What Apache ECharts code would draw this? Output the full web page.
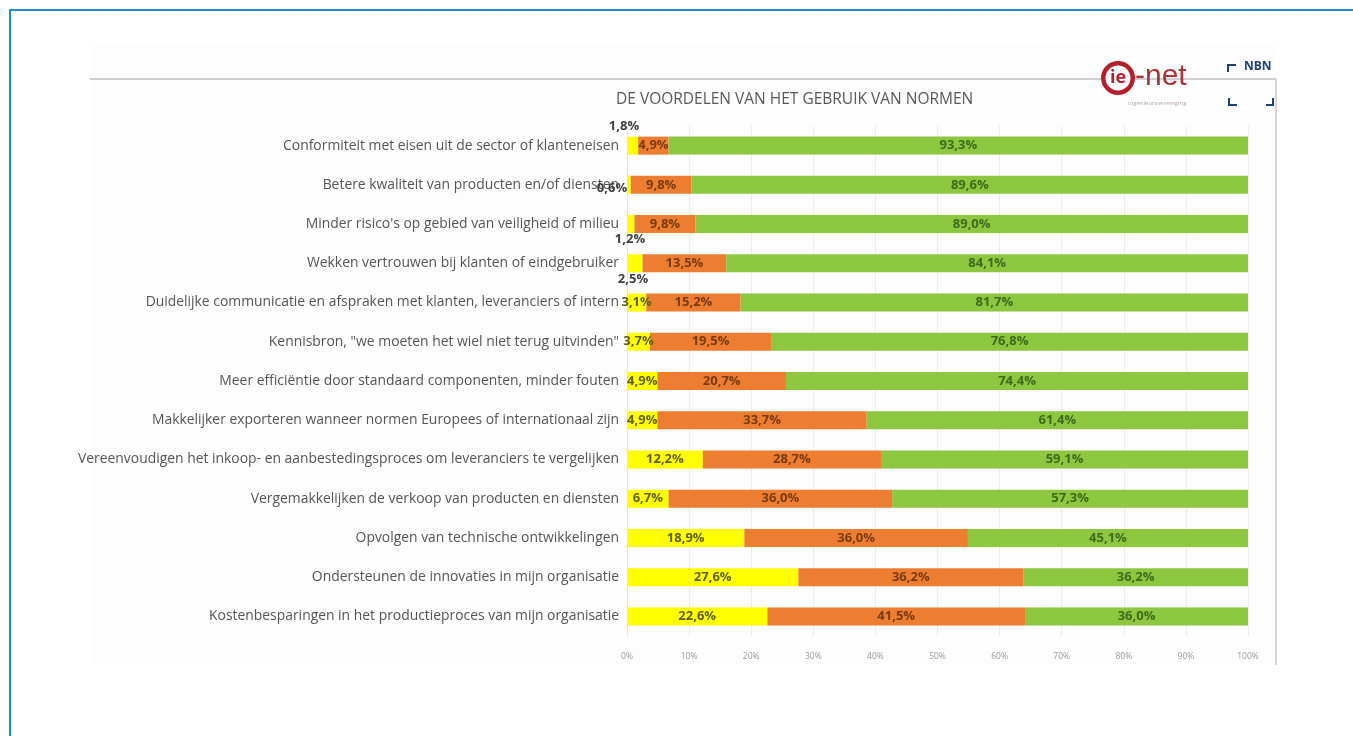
<!DOCTYPE html>
<html>
<head>
<meta charset="utf-8">
<script src="https://cdn.jsdelivr.net/npm/echarts@6/dist/echarts.min.js"></script>
<style>
  html, body { margin: 0; padding: 0; background: #fff; }
  #frame { position: absolute; left: 9px; top: 9px; width: 1400px; height: 800px; border-left: 2px solid #1f8ad8; border-top: 2px solid #1f8ad8; }
  #chart { position: absolute; left: 0; top: 0; width: 1353px; height: 736px; }
</style>
</head>
<body>
<div id="frame"></div>
<div id="chart"></div>
<script>
const categories = [
  "Conformiteit met eisen uit de sector of klanteneisen",
  "Betere kwaliteit van producten en/of diensten",
  "Minder risico's op gebied van veiligheid of milieu",
  "Wekken vertrouwen bij klanten of eindgebruiker",
  "Duidelijke communicatie en afspraken met klanten, leveranciers of intern",
  "Kennisbron, \"we moeten het wiel niet terug uitvinden\"",
  "Meer efficiëntie door standaard componenten, minder fouten",
  "Makkelijker exporteren wanneer normen Europees of internationaal zijn",
  "Vereenvoudigen het inkoop- en aanbestedingsproces om leveranciers te vergelijken",
  "Vergemakkelijken de verkoop van producten en diensten",
  "Opvolgen van technische ontwikkelingen",
  "Ondersteunen de innovaties in mijn organisatie",
  "Kostenbesparingen in het productieproces van mijn organisatie"
];
const yellowValues = [1.8, 0.6, 1.2, 2.5, 3.1, 3.7, 4.9, 4.9, 12.2, 6.7, 18.9, 27.6, 22.6];
const orangeValues = [4.9, 9.8, 9.8, 13.5, 15.2, 19.5, 20.7, 33.7, 28.7, 36.0, 36.0, 36.2, 41.5];
const greenValues  = [93.3, 89.6, 89.0, 84.1, 81.7, 76.8, 74.4, 61.4, 59.1, 57.3, 45.1, 36.2, 36.0];
const tickLabels = ["0%","10%","20%","30%","40%","50%","60%","70%","80%","90%","100%"];
const titleText = "DE VOORDELEN VAN HET GEBRUIK VAN NORMEN";

// label placement for the tiny yellow segments (style, not data)
const smallLabelOffsets = { 0: [-3, -10], 1: [-15, 12], 2: [3, 24], 3: [6, 25] };

const fmt = v => v.toFixed(1).replace('.', ',') + '%';
const labelFont = { fontFamily: 'Open Sans', fontWeight: 'bold', fontSize: 13 };

function yellowData() {
  return yellowValues.map((v, i) => {
    const item = { value: v };
    if (smallLabelOffsets[i]) {
      item.label = { position: smallLabelOffsets[i], align: 'center', verticalAlign: 'middle', color: '#404040' };
    }
    return item;
  });
}

const chart = echarts.init(document.getElementById('chart'));
chart.setOption({
  animation: false,
  backgroundColor: 'transparent',
  title: {
    text: titleText, left: 611, top: 87,
    textStyle: { fontFamily: 'Open Sans', fontSize: 15.5, fontWeight: 'normal', color: '#595959' }
  },
  grid: { left: 627, right: 105, top: 126, height: 510, containLabel: false },
  xAxis: {
    type: 'value', min: 0, max: 100, interval: 10,
    axisLine: { show: false }, axisTick: { show: false },
    splitLine: { show: true, lineStyle: { color: '#ececec', width: 1 } },
    axisLabel: { margin: 16, fontFamily: 'Open Sans', fontSize: 8.5, color: '#9a9a9a',
      formatter: (v) => tickLabels[Math.round(v / 10)] }
  },
  yAxis: {
    type: 'category', data: categories, inverse: true,
    axisLine: { show: true, lineStyle: { color: '#e4e4e4' } }, axisTick: { show: false },
    axisLabel: { margin: 8, fontFamily: 'Open Sans', fontSize: 13.9, color: '#555555' }
  },
  series: [
    { name: 'a', type: 'bar', stack: 't', data: yellowData(), barWidth: 18,
      itemStyle: { color: '#ffff00' },
      label: Object.assign({ show: true, position: 'inside', color: '#5f5f10', formatter: p => fmt(p.value) }, labelFont) },
    { name: 'b', type: 'bar', stack: 't', data: orangeValues, barWidth: 18,
      itemStyle: { color: '#ed7d31' },
      label: Object.assign({ show: true, position: 'inside', color: '#7a3a10', formatter: p => fmt(p.value) }, labelFont) },
    { name: 'c', type: 'bar', stack: 't', data: greenValues, barWidth: 18,
      itemStyle: { color: '#8dc63f' },
      label: Object.assign({ show: true, position: 'inside', color: '#3d6b1c', formatter: p => fmt(p.value) }, labelFont) }
  ],
  graphic: [
    { type: 'rect', z: -10, shape: { x: 90, y: 45, width: 1186, height: 620 }, style: { fill: '#fdfdfd' } },
    { type: 'line', shape: { x1: 90, y1: 79, x2: 1276, y2: 79 }, style: { stroke: '#cfcfcf', lineWidth: 2 } },
    { type: 'line', shape: { x1: 1276, y1: 79, x2: 1276, y2: 665 }, style: { stroke: '#d6d6d6', lineWidth: 2 } },
    // ie-net logo
    { type: 'circle', z: 10, shape: { cx: 1118, cy: 78, r: 17 }, style: { fill: '#b51f2a' } },
    { type: 'circle', z: 11, shape: { cx: 1118, cy: 78, r: 12.5 }, style: { fill: '#ffffff' } },
    { type: 'text', z: 12, style: { x: 1118, y: 78, align: 'center', verticalAlign: 'middle', text: 'ie', fontFamily: 'Open Sans', fontWeight: 'bold', fontSize: 18, fill: '#b51f2a' } },
    { type: 'text', z: 10, style: { x: 1135, y: 77, verticalAlign: 'middle', text: '-net', fontFamily: 'Liberation Sans', fontSize: 30, fill: '#a8343a' } },
    { type: 'text', left: 1128, top: 100, style: { text: 'ingenieursvereniging', fontFamily: 'Open Sans', fontSize: 6, fill: '#b8a8a8' } },
    // NBN logo
    { type: 'polyline', shape: { points: [[1228, 72], [1228, 65], [1236, 65]] }, style: { stroke: '#1f3f7a', lineWidth: 2, fill: null } },
    { type: 'text', left: 1244, top: 61, style: { text: 'NBN', fontFamily: 'Open Sans', fontWeight: 'bold', fontSize: 12, fill: '#1f3f7a' } },
    { type: 'polyline', shape: { points: [[1229, 98], [1229, 105], [1237, 105]] }, style: { stroke: '#1f3f7a', lineWidth: 2, fill: null } },
    { type: 'polyline', shape: { points: [[1266, 105], [1273, 105], [1273, 98]] }, style: { stroke: '#1f3f7a', lineWidth: 2, fill: null } }
  ]
});
</script>
</body>
</html>
